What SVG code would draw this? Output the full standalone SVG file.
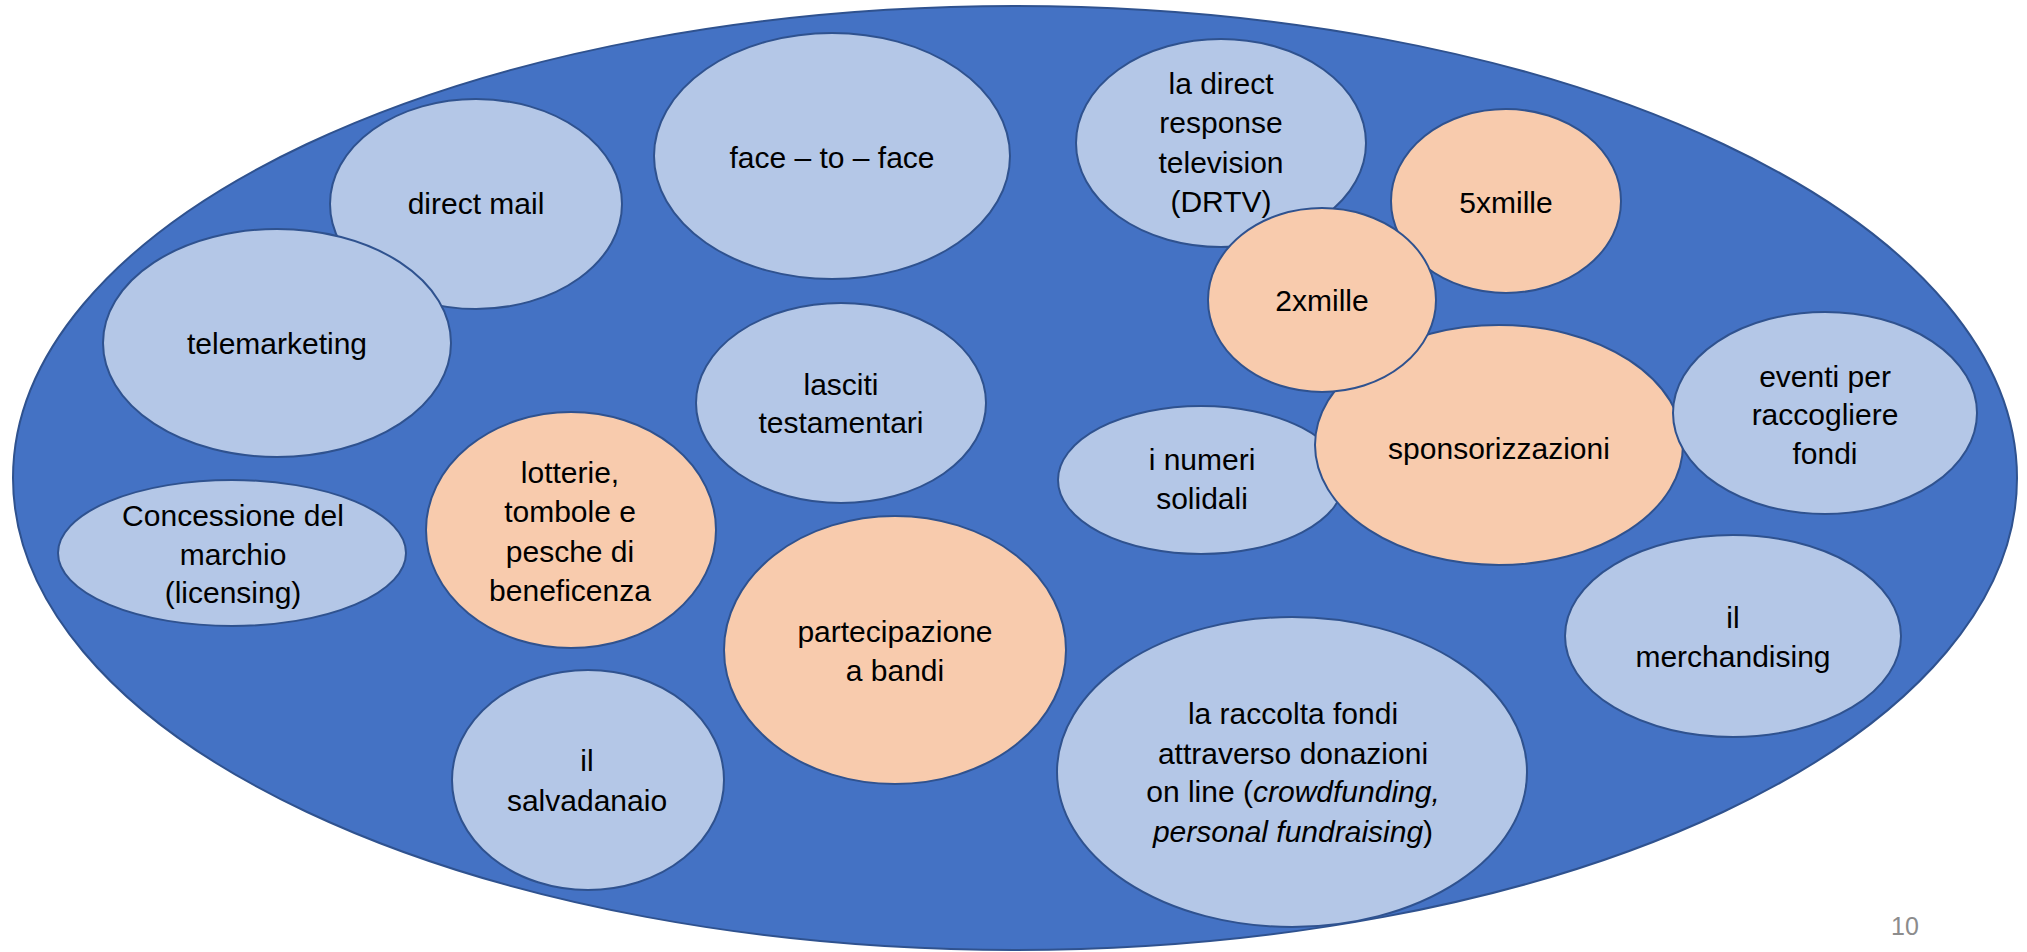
<svg xmlns="http://www.w3.org/2000/svg" width="2027" height="952" viewBox="0 0 2027 952">
<style>
.bg{fill:#4472C4;stroke:#2F528F;stroke-width:2}
.b{fill:#B4C7E7;stroke:#2F528F;stroke-width:2}
.o{fill:#F8CBAD;stroke:#2F528F;stroke-width:2}
text{font-family:"Liberation Sans",Arial,sans-serif;font-size:30px;fill:#000;text-anchor:middle}
.pg{font-size:25px;fill:#8C8C8C}
</style>
<rect width="2027" height="952" fill="#fff"/>
<g id="container"><ellipse class="bg" cx="1015" cy="478" rx="1002" ry="472"/></g>
<g id="connectors"></g>
<g id="direct-mail"><ellipse class="b" cx="476" cy="204" rx="146" ry="105"/><text x="476" y="214">direct mail</text></g>
<g id="telemarketing"><ellipse class="b" cx="277" cy="343" rx="174" ry="114"/><text x="277" y="354">telemarketing</text></g>
<g id="face-to-face"><ellipse class="b" cx="832" cy="156" rx="178" ry="123"/><text x="832" y="168">face – to – face</text></g>
<g id="lasciti"><ellipse class="b" cx="841" cy="403" rx="145" ry="100"/><text x="841" y="395">lasciti</text><text x="841" y="433">testamentari</text></g>
<g id="drtv"><ellipse class="b" cx="1221" cy="143" rx="145" ry="104"/><text x="1221" y="94">la direct</text><text x="1221" y="133">response</text><text x="1221" y="173">television</text><text x="1221" y="212">(DRTV)</text></g>
<g id="cinquexmille"><ellipse class="o" cx="1506" cy="201" rx="115" ry="92"/><text x="1506" y="213">5xmille</text></g>
<g id="numeri-solidali"><ellipse class="b" cx="1201" cy="480" rx="143" ry="74"/><text x="1202" y="470">i numeri</text><text x="1202" y="509">solidali</text></g>
<g id="sponsorizzazioni"><ellipse class="o" cx="1499" cy="445" rx="184" ry="120"/><text x="1499" y="459">sponsorizzazioni</text></g>
<g id="duexmille"><ellipse class="o" cx="1322" cy="300" rx="114" ry="92"/><text x="1322" y="311">2xmille</text></g>
<g id="eventi"><ellipse class="b" cx="1825" cy="413" rx="152" ry="101"/><text x="1825" y="387">eventi per</text><text x="1825" y="425">raccogliere</text><text x="1825" y="464">fondi</text></g>
<g id="lotterie"><ellipse class="o" cx="571" cy="530" rx="145" ry="118"/><text x="570" y="483">lotterie,</text><text x="570" y="522">tombole e</text><text x="570" y="562">pesche di</text><text x="570" y="601">beneficenza</text></g>
<g id="concessione"><ellipse class="b" cx="232" cy="553" rx="174" ry="73"/><text x="233" y="526">Concessione del</text><text x="233" y="565">marchio</text><text x="233" y="603">(licensing)</text></g>
<g id="partecipazione"><ellipse class="o" cx="895" cy="650" rx="171" ry="134"/><text x="895" y="642">partecipazione</text><text x="895" y="681">a bandi</text></g>
<g id="merchandising"><ellipse class="b" cx="1733" cy="636" rx="168" ry="101"/><text x="1733" y="628">il</text><text x="1733" y="667">merchandising</text></g>
<g id="salvadanaio"><ellipse class="b" cx="588" cy="780" rx="136" ry="110"/><text x="587" y="771">il</text><text x="587" y="811">salvadanaio</text></g>
<g id="raccolta"><ellipse class="b" cx="1292" cy="772" rx="235" ry="155"/><text x="1293" y="724">la raccolta fondi</text><text x="1293" y="764">attraverso donazioni</text><text x="1293" y="802">on line (<tspan font-style="italic">crowdfunding,</tspan></text><text x="1293" y="842"><tspan font-style="italic">personal fundraising</tspan>)</text></g>
<g id="page-number"><text class="pg" x="1905" y="935">10</text></g>
</svg>
